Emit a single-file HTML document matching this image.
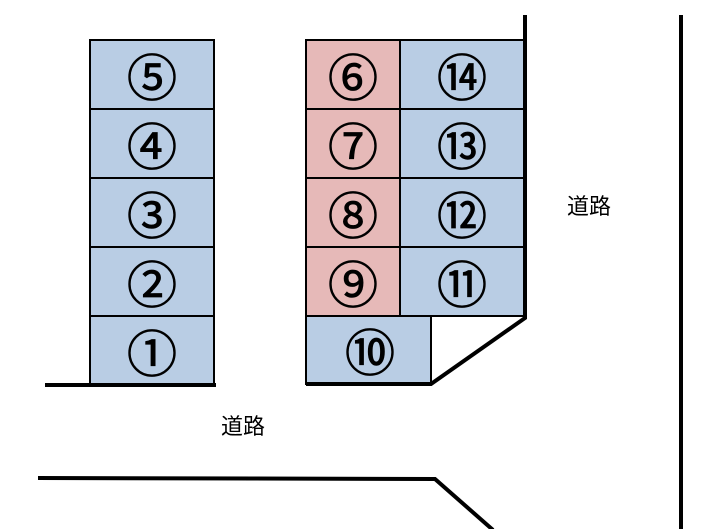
<!DOCTYPE html>
<html><head><meta charset="utf-8"><style>
html,body{margin:0;padding:0;background:#fff;}
svg{display:block;}
text{font-family:"Liberation Sans","Noto Sans CJK JP",sans-serif;}
</style></head><body>
<svg width="702" height="529" viewBox="0 0 702 529" xmlns="http://www.w3.org/2000/svg">
<g stroke="#000" stroke-width="2">
<rect x="90" y="40" width="124" height="69" fill="#b9cde4"/>
<rect x="90" y="109" width="124" height="69" fill="#b9cde4"/>
<rect x="90" y="178" width="124" height="69" fill="#b9cde4"/>
<rect x="90" y="247" width="124" height="69" fill="#b9cde4"/>
<rect x="90" y="316" width="124" height="69" fill="#b9cde4"/>
<rect x="306" y="40" width="94" height="69" fill="#e6b9b8"/>
<rect x="306" y="109" width="94" height="69" fill="#e6b9b8"/>
<rect x="306" y="178" width="94" height="69" fill="#e6b9b8"/>
<rect x="306" y="247" width="94" height="69" fill="#e6b9b8"/>
<rect x="400" y="40" width="125" height="69" fill="#b9cde4"/>
<rect x="400" y="109" width="125" height="69" fill="#b9cde4"/>
<rect x="400" y="178" width="125" height="69" fill="#b9cde4"/>
<rect x="400" y="247" width="125" height="69" fill="#b9cde4"/>
<rect x="306" y="316" width="125" height="68" fill="#b9cde4"/>
</g>
<g stroke="#000" stroke-width="4" fill="none">
<line x1="45" y1="385" x2="216" y2="385"/>
<polyline points="306,384 431,384 525,318 525,15"/>
<line x1="681" y1="15" x2="681" y2="529"/>
<polyline points="38,478 435,479 493,530"/>
</g>
<g font-size="50" text-anchor="middle" fill="#000" stroke="#000" stroke-width="0.8">
<text x="152" y="96">⑤</text>
<text x="152" y="165">④</text>
<text x="152" y="234">③</text>
<text x="152" y="303">②</text>
<text x="152" y="372">①</text>
<text x="353" y="96">⑥</text>
<text x="353" y="165">⑦</text>
<text x="353" y="234">⑧</text>
<text x="353" y="303">⑨</text>
<text x="462" y="96">⑭</text>
<text x="462" y="165">⑬</text>
<text x="462" y="234">⑫</text>
<text x="462" y="303">⑪</text>
<text x="370" y="371">⑩</text>
</g>
<g font-size="22" fill="#000">
<text x="221" y="434">道路</text>
<text x="567" y="214">道路</text>
</g>
</svg>
</body></html>
